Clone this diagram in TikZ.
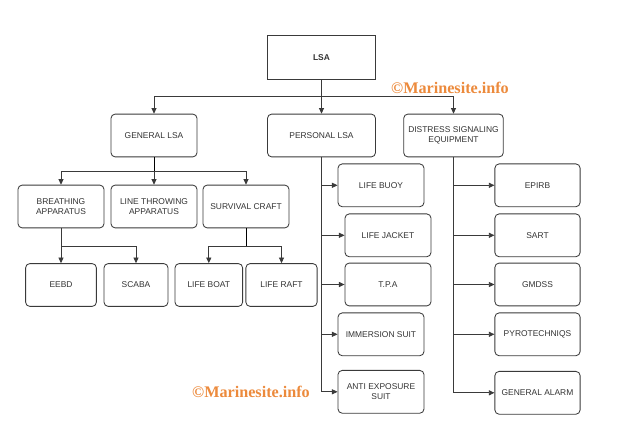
\documentclass[tikz,border=0pt]{standalone}
\usepackage{fontspec}
\setsansfont{Liberation Sans}
\newfontfamily\markfont{Liberation Serif}
\usetikzlibrary{arrows.meta}
\definecolor{ink}{HTML}{333333}
\definecolor{edge}{HTML}{3A3A3A}
\definecolor{mark}{HTML}{EC8A3C}

\begin{document}
\begin{tikzpicture}[x=0.025cm,y=-0.025cm,font=\sffamily\fontsize{6}{7.4}\selectfont,text=ink,
  box/.style={draw=edge,line width=0.6pt,rounded corners=3pt,inner sep=0pt,align=center,minimum height=1.07cm,minimum width=2.15cm},
  arr/.style={draw=edge,line width=0.6pt,-{Triangle[length=4pt,width=3.6pt]}},
  wmark/.style={text=mark,font=\markfont\bfseries\fontsize{11.5}{13}\selectfont}]
  \useasboundingbox (0,0) rectangle (640,423);
  \node[box,rounded corners=0pt,minimum width=2.7cm,minimum height=1.08cm,font=\sffamily\bfseries\fontsize{6}{7.4}\selectfont] (lsa) at (321.5,57.5) {LSA};
  \node[box] (gen) at (154,135.5) {GENERAL LSA};
  \node[box,minimum width=2.7cm] (pers) at (321.5,135.5) {PERSONAL LSA};
  \node[box,minimum width=2.49cm] (dist) at (453.5,135.5) {DISTRESS SIGNALING\\EQUIPMENT};
  \node[box] (breath) at (61,206.5) {BREATHING\\APPARATUS};
  \node[box] (throw) at (154,206.5) {LINE THROWING\\APPARATUS};
  \node[box] (surv) at (246,206.5) {SURVIVAL CRAFT};
  \node[box,minimum width=1.77cm] (eebd) at (61,285) {EEBD};
  \node[box,minimum width=1.6cm] (scaba) at (136,285) {SCABA};
  \node[box,minimum width=1.69cm] (boat) at (208.8,285) {LIFE BOAT};
  \node[box,minimum width=1.78cm] (raft) at (281.5,285) {LIFE RAFT};
  \node[box] (buoy) at (381,185.3) {LIFE BUOY};
  \node[box] (jacket) at (388,235.3) {LIFE JACKET};
  \node[box] (tpa) at (388,284.5) {T.P.A};
  \node[box] (immer) at (381,334.3) {IMMERSION SUIT};
  \node[box] (anti) at (381,391.8) {ANTI EXPOSURE\\SUIT};
  \foreach \n/\y/\t in {epirb/185.3/EPIRB,sart/235.3/SART,gmdss/284.5/GMDSS,pyro/334.3/PYROTECHNIQS,alarm/392.8/GENERAL ALARM}{
    \node[box,minimum width=2.13cm] (\n) at (537.5,\y) {\t};
  }
  \coordinate (j0) at (321.5,96.7);
  \coordinate (j1) at (154,171.7);
  \coordinate (j2) at (61,246.7);
  \coordinate (j3) at (246,246.7);
  \draw[arr] (lsa) -- (pers);
  \draw[arr] (j0) -| (gen);
  \draw[arr] (j0) -| (dist);
  \draw (gen.south) -- (j1);
  \foreach \n in {breath,throw,surv}{
    \draw[arr] (j1) -| (\n);
  }
  \draw[arr] (breath) -- (eebd);
  \draw[arr] (j2) -| (scaba);
  \draw (surv.south) -- (j3);
  \draw[arr] (j3) -| (boat);
  \draw[arr] (j3) -| (raft);
  \foreach \n in {buoy,jacket,tpa,immer,anti}{
    \draw[arr] (pers.south) |- (\n);
  }
  \foreach \n in {epirb,sart,gmdss,pyro,alarm}{
    \draw[arr] (dist.south) |- (\n);
  }
  \node[wmark] (mark1) at (450,88) {\textcopyright Marinesite.info};
  \node[wmark] (mark2) at (251,391.7) {\textcopyright Marinesite.info};
\end{tikzpicture}
\end{document}
